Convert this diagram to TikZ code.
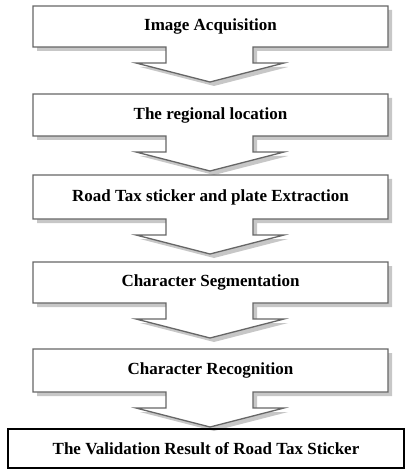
\documentclass[tikz,border=0pt]{standalone}
\usepackage{fontspec}
\setmainfont{Liberation Serif}
\usetikzlibrary{patterns}

\tikzset{
  stepframe/.style={draw=black!60, line width=1.3pt, fill=white, line join=miter},
  stepshade/.style={fill=black!22},
  steptext/.style={font=\fontsize{17}{20}\selectfont\bfseries},
}

\begin{document}
\begin{tikzpicture}[x=1pt,y=-1pt]
  \useasboundingbox (0,0) rectangle (406,470);

  % step boxes, each with its arrow below (top/bottom)
  \foreach \t/\b in {6/47, 94/136, 175/219, 262/303, 349/392} {
    \fill[stepshade, shift={(4,4)}] (33,\t) -- (388,\t) -- (388,\b) -- (253,\b) -- (253,\b+16)
      -- (284,\b+16) -- (210,\b+35) -- (136,\b+16) -- (166,\b+16) -- (166,\b) -- (33,\b) -- cycle;
    \draw[stepframe] (33,\t) -- (388,\t) -- (388,\b) -- (253,\b) -- (253,\b+16)
      -- (284,\b+16) -- (210,\b+35) -- (136,\b+16) -- (166,\b+16) -- (166,\b) -- (33,\b) -- cycle;
  }

  \node[steptext] (acq) at (210.5,26.5) {Image Acquisition};
  \node[steptext] (region) at (210.5,115) {The regional location};
  \node[steptext] (extract) at (210.5,197) {Road Tax sticker and plate Extraction};
  \node[steptext] (segment) at (210.5,282.5) {Character Segmentation};
  \node[steptext] (recog) at (210.5,370.5) {Character Recognition};

  % last box
  \node[steptext, draw, line width=1.6pt, minimum width=396pt, minimum height=39pt] (result) at (206,448.5)
    {The Validation Result of Road Tax Sticker};
\end{tikzpicture}
\end{document}
